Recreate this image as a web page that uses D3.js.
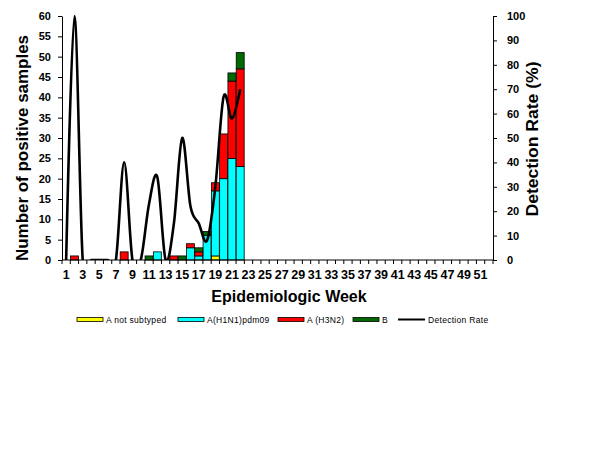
<!DOCTYPE html>
<html>
  <head>
    <meta http-equiv="Content-Type" content="text/html;charset=utf-8"/>
    <title>Positive samples by week</title>
    <script src="https://d3js.org/d3.v7.min.js"></script>
    <style>
      body { margin: 0; background: #fff; }
      svg { font-family: "Liberation Sans", Arial, sans-serif; }
    </style>
  </head>
  <body>
    <div id="content"></div>
    <script type="text/javascript">

        // weeks 1..52 on the category axis, odd weeks labelled
        const weeks = d3.range(1, 53)
        const weekLabels = [1,3,5,7,9,11,13,15,17,19,21,23,25,27,29,31,33,35,37,39,41,43,45,47,49,51]

        // counts for weeks 1..22 (no data afterwards)
        const notSubtyped = [0,0,0,0,0,0,0,0,0,0,0,0,0,0,0,0,0,0,1,0,0,0]
        const h1n1        = [0,0,0,0,0,0,0,0,0,0,0,2,0,0,0,3,1,6,16,20,25,23]
        const h3n2        = [0,1,0,0,0,0,0,2,0,0,0,0,0,1,0,1,1,0,2,11,19,24]
        const fluB        = [0,0,0,0,0,0,0,0,0,0,1,0,0,0,1,0,1,1,0,0,2,4]
        const detectionRate = [0,100,0,0,0,0,0,40,0,0,23,34,0,15,50,22,15,8,30,67,58,70]

        const leftTicks = [0,5,10,15,20,25,30,35,40,45,50,55,60]
        const rightTicks = [0,10,20,30,40,50,60,70,80,90,100]

        const series = [
            { key: 'notSubtyped', name: 'A not subtyped', values: notSubtyped, color: '#ffff00' },
            { key: 'h1n1', name: 'A(H1N1)pdm09', values: h1n1, color: '#00ffff' },
            { key: 'h3n2', name: 'A (H3N2)', values: h3n2, color: '#ff0000' },
            { key: 'b', name: 'B', values: fluB, color: '#006a00' }
        ]

        const width = 614,
            height = 460,
            plotLeft = 62,
            plotRight = 493,
            plotTop = 16,
            plotBottom = 260

        const rows = notSubtyped.map((v, i) => {
            const row = { week: i + 1 }
            series.forEach(s => { row[s.key] = s.values[i] })
            return row
        })

        const xScale = d3.scaleBand()
            .domain(weeks)
            .range([plotLeft, plotRight])
            .paddingInner(0.04)
            .paddingOuter(0.02)

        const yScale = d3.scaleLinear().domain([0, 60]).range([plotBottom, plotTop])
        const rScale = d3.scaleLinear().domain([0, 100]).range([plotBottom, plotTop])

        const svg = d3.select('#content').append('svg').attr('width', width).attr('height', height)

        svg.append('defs').append('clipPath').attr('id', 'plot')
            .append('rect').attr('x', plotLeft).attr('y', plotTop - 3)
            .attr('width', plotRight - plotLeft).attr('height', plotBottom - plotTop + 3)

        // stacked bars
        const stack = d3.stack().keys(series.map(s => s.key))(rows)

        svg.append('g').selectAll('g')
            .data(stack)
            .enter()
            .append('g')
            .attr('fill', (d, i) => series[i].color)
            .selectAll('rect')
            .data(d => d.filter(p => p[1] > p[0]))
            .enter()
            .append('rect')
            .attr('x', d => xScale(d.data.week))
            .attr('width', xScale.bandwidth())
            .attr('y', d => yScale(d[1]))
            .attr('height', d => yScale(d[0]) - yScale(d[1]))
            .attr('stroke', '#000')
            .attr('stroke-width', 0.8)

        // detection rate line (smoothed)
        const line = d3.line()
            .x((d, i) => xScale(i + 1) + xScale.bandwidth() / 2)
            .y(d => rScale(d))
            .curve(d3.curveCardinal.tension(0))

        svg.append('path')
            .datum(detectionRate)
            .attr('d', line)
            .attr('fill', 'none')
            .attr('stroke', '#000')
            .attr('stroke-width', 2.6)
            .attr('clip-path', 'url(#plot)')

        // left axis
        const yAxis = d3.axisLeft(yScale).tickValues(leftTicks).tickSize(4).tickSizeOuter(0).tickPadding(7)
        const gy = svg.append('g').attr('transform', 'translate(' + plotLeft + ',0)').call(yAxis)

        // right axis
        const rAxis = d3.axisRight(rScale).tickValues(rightTicks).tickSize(4).tickSizeOuter(0).tickPadding(10)
        const gr = svg.append('g').attr('transform', 'translate(' + plotRight + ',0)').call(rAxis)

        // bottom axis: labels on odd weeks, ticks between categories
        const xAxis = d3.axisBottom(xScale).tickValues(weekLabels).tickSize(0).tickPadding(10.5)
        const gx = svg.append('g').attr('transform', 'translate(0,' + plotBottom + ')').call(xAxis)
        gx.select('.domain').attr('d', 'M' + plotLeft + ',0H' + plotRight)
        const sepX = d => d === 53 ? plotRight : xScale(d) - xScale.step() * xScale.paddingInner() / 2
        gx.selectAll('.sep')
            .data(weeks.concat([53]))
            .enter()
            .append('line')
            .attr('class', 'sep')
            .attr('x1', sepX)
            .attr('x2', sepX)
            .attr('y1', 0)
            .attr('y2', 4)
            .attr('stroke', '#000')

        ;[gy, gr, gx].forEach(g => {
            g.selectAll('.domain').attr('stroke', '#000')
            g.selectAll('.tick line').attr('stroke', '#000')
            g.selectAll('text')
                .attr('font-family', '"Liberation Sans", Arial, sans-serif')
                .attr('font-size', 11)
                .attr('font-weight', 'bold')
                .attr('fill', '#000')
        })
        gx.selectAll('text').attr('font-size', 12.5)

        // axis titles
        svg.append('text')
            .attr('transform', 'translate(28,148) rotate(-90)')
            .attr('text-anchor', 'middle')
            .attr('font-size', 16)
            .attr('font-weight', 'bold')
            .attr('textLength', 226)
            .attr('lengthAdjust', 'spacingAndGlyphs')
            .text('Number of positive samples')

        svg.append('text')
            .attr('transform', 'translate(538,139) rotate(-90)')
            .attr('text-anchor', 'middle')
            .attr('font-size', 16.5)
            .attr('font-weight', 'bold')
            .attr('textLength', 155)
            .attr('lengthAdjust', 'spacingAndGlyphs')
            .text('Detection Rate (%)')

        svg.append('text')
            .attr('x', 289)
            .attr('y', 302)
            .attr('text-anchor', 'middle')
            .attr('font-size', 16)
            .attr('font-weight', 'bold')
            .text('Epidemiologic Week')

        // legend
        const legendX = [77, 178, 278, 353]
        const legend = svg.append('g')
        series.forEach((s, i) => {
            legend.append('rect')
                .attr('x', legendX[i]).attr('y', 317.5)
                .attr('width', 26).attr('height', 4)
                .attr('fill', s.color).attr('stroke', '#000').attr('stroke-width', 0.8)
            legend.append('text')
                .attr('x', legendX[i] + 29).attr('y', 322.5)
                .attr('font-size', 8.5)
                .attr('letter-spacing', 0.3)
                .text(s.name)
        })
        legend.append('line')
            .attr('x1', 398).attr('x2', 425).attr('y1', 319.5).attr('y2', 319.5)
            .attr('stroke', '#000').attr('stroke-width', 2)
        legend.append('text')
            .attr('x', 428).attr('y', 322.5)
            .attr('font-size', 8.5)
            .attr('letter-spacing', 0.3)
            .text('Detection Rate')

    </script>
  </body>
</html>
